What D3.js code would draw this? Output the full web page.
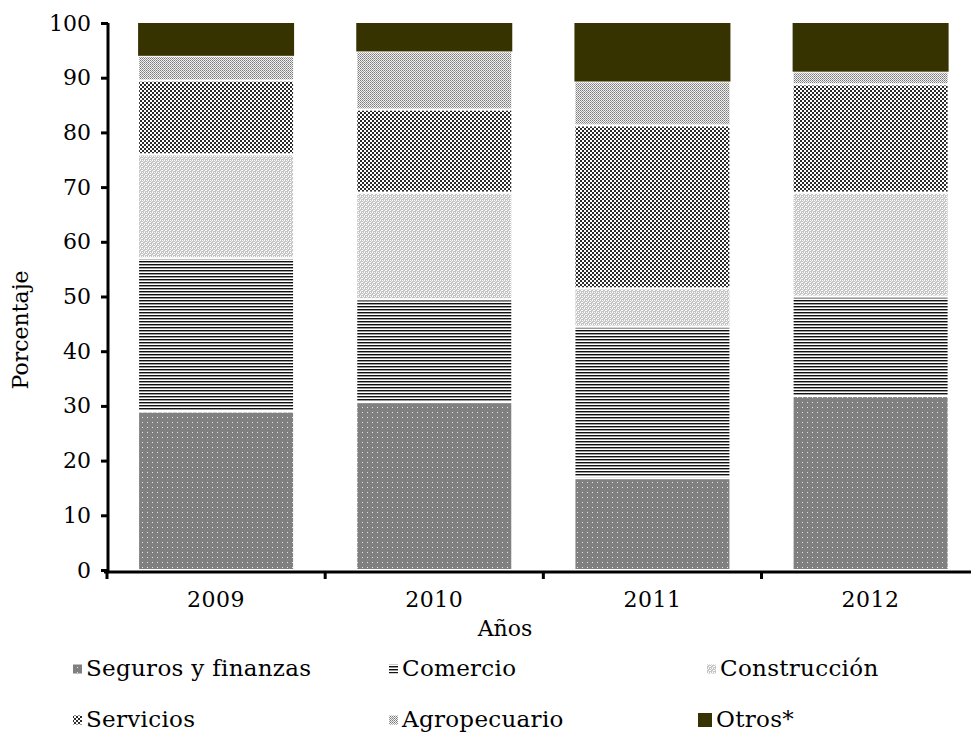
<!DOCTYPE html>
<html><head><meta charset="utf-8">
<script src="https://cdn.jsdelivr.net/npm/d3@7"></script>
<style>
body{margin:0;background:#fff;}
text{font-family:"DejaVu Serif",serif;fill:#000;}
</style></head>
<body><svg id="c" width="971" height="736"></svg>
<script>
const years = ["2009","2010","2011","2012"];
const seriesNames = ["Seguros y finanzas","Comercio","Construcción","Servicios","Agropecuario","Otros*"];
const seguros      = [29.0, 30.7, 16.8, 31.8];
const comercio     = [28.0, 18.8, 27.7, 18.2];
const construccion = [19.0, 19.5,  7.0, 19.0];
const servicios    = [13.5, 15.2, 29.8, 19.8];
const agropecuario = [ 4.5, 10.6,  8.0,  2.3];
const otros        = [ 6.0,  5.2, 10.7,  8.9];
const yTicks = [0,10,20,30,40,50,60,70,80,90,100];

const seriesValues = [seguros, comercio, construccion, servicios, agropecuario, otros];
const keys = ["seg","com","con","ser","agr","otr"];
const table = years.map((y,i)=>{const o={year:y}; keys.forEach((k,j)=>o[k]=seriesValues[j][i]); return o;});

const svg = d3.select("#c");
const defs = svg.append("defs");
function pat(id,w,h,bg,cells){
  const p=defs.append("pattern").attr("id",id).attr("width",w).attr("height",h).attr("patternUnits","userSpaceOnUse");
  p.append("rect").attr("width",w).attr("height",h).attr("fill",bg);
  cells.forEach(c=>p.append("rect").attr("x",c[0]).attr("y",c[1]).attr("width",c[2]).attr("height",c[3]).attr("fill",c[4]).attr("shape-rendering","crispEdges"));
}
pat("p-seg",5,5,"#808080",[[2,2,1,1,"#e6e6e6"]]);
pat("p-com",3,3,"#ffffff",[[0,0,3,1,"#111"],[0,1,3,1,"#9a9a9a"]]);
pat("p-con",4,4,"#c4c4c4",[[0,0,1,1,"#fff"],[2,0,1,1,"#fff"],[1,2,2,1,"#fff"],[3,1,1,1,"#eee"],[0,3,1,1,"#eee"]]);
pat("p-ser",4,4,"#ffffff",[[0,0,2,2,"#2b2b2b"],[2,2,2,2,"#2b2b2b"]]);
pat("p-agr",2,2,"#f2f2f2",[[0,0,1,1,"#7a7a7a"],[1,1,1,1,"#9a9a9a"]]);
const fills = {seg:"url(#p-seg)",com:"url(#p-com)",con:"url(#p-con)",ser:"url(#p-ser)",agr:"url(#p-agr)",otr:"#363300"};

const x = d3.scaleBand().domain(years).range([107,979.7]).paddingInner(0.285).paddingOuter(0.1425);
const xb = d3.scaleBand().domain(years).range([107,979.7]);
const y = d3.scaleLinear().domain([0,100]).range([570,23]);

const stack = d3.stack().keys(keys)(table);
stack.forEach(layer=>{
  svg.append("g").selectAll("rect").data(layer).join("rect")
    .attr("x",d=>x(d.data.year)).attr("width",x.bandwidth())
    .attr("y",d=>y(d[1])).attr("height",d=>y(d[0])-y(d[1]))
    .attr("fill",fills[layer.key])
    .attr("stroke",layer.key==="otr"?"none":"#fff").attr("stroke-width",2);
});

// y axis
const ya = svg.append("g").attr("transform","translate(108,0)")
  .call(d3.axisLeft(y).tickValues(yTicks).tickSize(7).tickPadding(10));
ya.select(".domain").attr("stroke","#000").attr("stroke-width",3).attr("d","M0,23V571.5");
ya.selectAll(".tick line").attr("stroke","#000").attr("stroke-width",3);
ya.selectAll(".tick text").style("font-size","22px").attr("font-family","DejaVu Serif");

// x axis
const xa = svg.append("g").attr("transform","translate(0,572)");
xa.append("line").attr("x1",104).attr("x2",985).attr("y1",0).attr("y2",0).attr("stroke","#000").attr("stroke-width",3);
xa.selectAll("line.t").data(years).join("line").attr("class","t")
  .attr("x1",d=>xb(d)).attr("x2",d=>xb(d)).attr("y1",0).attr("y2",7).attr("stroke","#000").attr("stroke-width",3);
xa.selectAll("text").data(years).join("text")
  .attr("x",d=>x(d)+x.bandwidth()/2).attr("y",35).attr("text-anchor","middle")
  .style("font-size","22px").style("letter-spacing","0.5px").text(d=>d);

svg.append("text").attr("x",505).attr("y",636).attr("text-anchor","middle").style("font-size","22px").text("Años");
svg.append("text").attr("transform","translate(28,330) rotate(-90)").attr("text-anchor","middle").style("font-size","22px").text("Porcentaje");

// legend
const legPos = [[86,670],[402,670],[720,670],[86,721],[402,721],[716,721]];
seriesNames.forEach((n,i)=>{
  const [lx,ly]=legPos[i];
  const s = keys[i]==="otr"?14:9;
  svg.append("rect").attr("x",lx-4-s).attr("y",ly-s/2-1).attr("width",s).attr("height",s).attr("fill",fills[keys[i]]);
  svg.append("text").attr("x",lx).attr("y",ly).attr("dominant-baseline","middle").style("font-size","23px").style("letter-spacing","0.3px").text(n);
});
</script></body></html>
